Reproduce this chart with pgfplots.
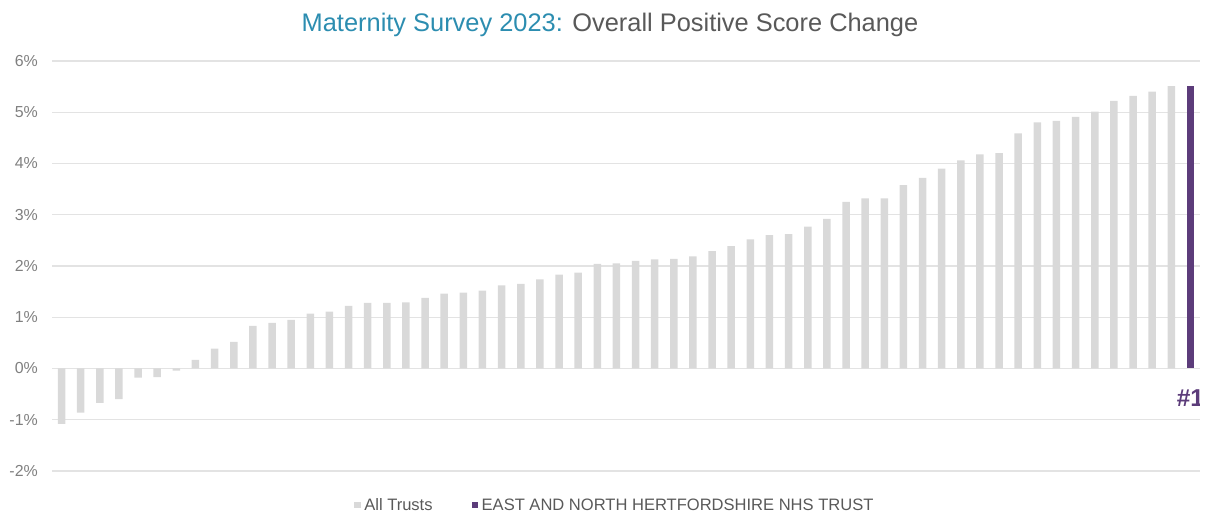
\documentclass[border=0pt]{standalone}
\usepackage{pgfplots}
\pgfplotsset{compat=1.18}
\usepackage{fontspec}
\setmainfont{Liberation Sans}

\definecolor{bargray}{HTML}{D9D9D9}
\definecolor{gridgray}{HTML}{E3E3E3}
\definecolor{trustpurple}{HTML}{5C3C7A}
\definecolor{titleteal}{HTML}{2C8DB0}
\definecolor{textgray}{HTML}{595959}
\definecolor{tickgray}{HTML}{7F7F7F}

\begin{document}
\begin{tikzpicture}
\useasboundingbox (-52bp,-42bp) rectangle (1157bp,471bp);
\begin{axis}[
  at={(0,0)}, anchor=south west,
  scale only axis,
  width=1148bp, height=410bp,
  xmin=-0.5, xmax=59.5,
  ymin=-2, ymax=6,
  axis line style={draw=none},
  ytick={-2,-1,0,1,2,3,4,5,6},
  yticklabels={-2\%,-1\%,0\%,1\%,2\%,3\%,4\%,5\%,6\%},
  xtick=\empty,
  major tick length=0pt,
  ymajorgrids,
  grid style={gridgray, line width=1.3bp},
  yticklabel style={font=\fontsize{16}{19}\selectfont, text=tickgray, anchor=east, inner sep=0pt, xshift=-14bp},
  ybar, bar width=7.5bp, bar shift=0pt,
  legend columns=2,
  legend style={at={(302bp,-34bp)}, anchor=west, draw=none, fill=none,
    inner sep=0pt, nodes={inner sep=0pt},
    font=\fontsize{16.6}{19}\selectfont, text=textgray,
    /tikz/every odd column/.append style={column sep=3.5bp},
    /tikz/every even column/.append style={column sep=39bp}},
  legend image code/.code={\fill[#1] (0bp,-3.3bp) rectangle (6.6bp,3.3bp);},
]
% all trusts, ranked by change in overall positive score
\addplot[fill=bargray, draw=none] coordinates {
(0,-1.08) (1,-0.86) (2,-0.67) (3,-0.60) (4,-0.18) (5,-0.17) (6,-0.04) (7,0.17)
(8,0.39) (9,0.52) (10,0.83) (11,0.89) (12,0.95) (13,1.07) (14,1.11) (15,1.22)
(16,1.28) (17,1.28) (18,1.29) (19,1.38) (20,1.46) (21,1.48) (22,1.52) (23,1.62)
(24,1.65) (25,1.74) (26,1.83) (27,1.87) (28,2.04) (29,2.05) (30,2.10) (31,2.13)
(32,2.14) (33,2.19) (34,2.29) (35,2.39) (36,2.52) (37,2.60) (38,2.62) (39,2.77)
(40,2.92) (41,3.25) (42,3.32) (43,3.32) (44,3.58) (45,3.72) (46,3.90) (47,4.06)
(48,4.18) (49,4.20) (50,4.59) (51,4.80) (52,4.83) (53,4.91) (54,5.01) (55,5.22)
(56,5.32) (57,5.40) (58,5.51)
};
\addlegendentry{All Trusts}
% highlighted trust
\addplot[fill=trustpurple, draw=none] coordinates {(59,5.52)};
\addlegendentry{EAST AND NORTH HERTFORDSHIRE NHS TRUST}
\node[text=trustpurple, font=\fontsize{24.5}{28}\selectfont\bfseries, anchor=center]
  at (axis cs:59,-0.57) {\#1};
\end{axis}
\node[anchor=base, font=\fontsize{25.5}{30}\selectfont] at (558bp,439bp)
  {\textcolor{titleteal}{Maternity Survey 2023:} \textcolor{textgray}{Overall Positive Score Change}};
\end{tikzpicture}
\end{document}
